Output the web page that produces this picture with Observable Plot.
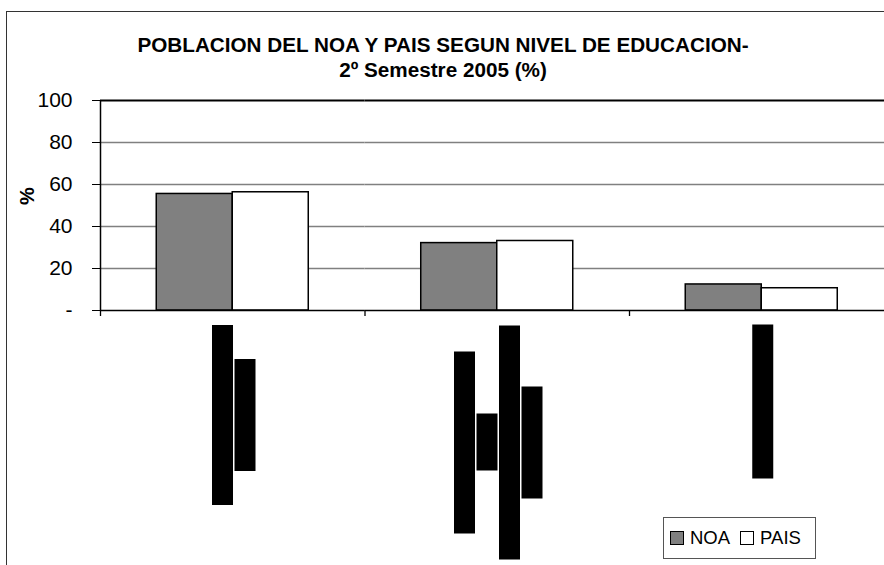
<!DOCTYPE html>
<html>
<head>
<meta charset="utf-8">
<script src="https://cdn.jsdelivr.net/npm/d3@7"></script>
<script src="https://cdn.jsdelivr.net/npm/@observablehq/plot@0.6"></script>
<style>
html, body { margin: 0; padding: 0; background: #fff; overflow: hidden; }
#wrap { position: relative; width: 884px; height: 565px; overflow: hidden; background: #fff;
        font-family: "Liberation Sans", Arial, sans-serif; color: #000; }
#border { position: absolute; left: 6px; top: 11px; width: 1200px; height: 1200px;
          border: 1.5px solid #333; box-sizing: border-box; }
#title { position: absolute; left: 0; width: 886px; top: 32px; text-align: center;
         font-weight: bold; font-size: 20.7px; line-height: 25.3px; white-space: nowrap; }
#ylabel { position: absolute; left: 27px; top: 196px; transform: translate(-50%, -50%) rotate(-90deg);
          font-weight: bold; font-size: 20px; line-height: 1; }
#chart { position: absolute; left: 0; top: 0; }
#legend { position: absolute; left: 663px; top: 517px; width: 153px; height: 42px; box-sizing: border-box;
          border: 1px solid #555; background: #fff; display: flex; align-items: center; padding-left: 6px; }
#legend .item { display: flex; align-items: center; margin-right: 10px; font-size: 18.5px; }
#legend .sw { width: 14px; height: 14px; box-sizing: border-box; border: 1.5px solid #000; margin-right: 6px; }
</style>
</head>
<body>
<svg width="0" height="0" style="position:absolute">
  <defs>
    <filter id="redact" x="0" y="0.08" width="1" height="0.84">
      <feFlood flood-color="#000" flood-opacity="1"/>
    </filter>
  </defs>
</svg>
<div id="wrap">
  <div id="border"></div>
  <div id="chart"></div>
  <div id="title"></div>
  <div id="ylabel"></div>
  <div id="legend"></div>
</div>
<script>
// ---- data ----
const titleLines = ["POBLACION DEL NOA Y PAIS SEGUN NIVEL DE EDUCACION-", "2º Semestre 2005 (%)"];
const yLabel = "%";
const categoryLines = [
  ["Hasta Secundario", "Incompleto"],
  ["Desde secundario", "hasta", "Terciario y Universitario", "Incompleto"],
  ["Univ. Completo"]
];
const categories = categoryLines.map(l => l.join(" "));
const series = ["NOA", "PAIS"];
const noaValues = [55.5, 32.1, 12.4];
const paisValues = [56.3, 33.1, 10.6];
const yTicks = [0, 20, 40, 60, 80, 100];
const seriesColors = ["#808080", "#ffffff"];

const data = categories.flatMap((c, i) => [
  {cat: c, series: series[0], value: noaValues[i]},
  {cat: c, series: series[1], value: paisValues[i]}
]);

// ---- layout ----
const W = 900, H = 565, mL = 100, mR = 6.5, mT = 100, mB = 255;
const facetW = (W - mL - mR) / categories.length;
const labelFont = 22.5, linePitch = 22.5, labelGap = 15, labelShift = 8.5;

const ctx = document.createElement("canvas").getContext("2d");
ctx.font = `${labelFont}px "Liberation Sans"`;
const labelMarks = categoryLines.flatMap((lines, i) => {
  const maxLen = Math.max(...lines.map(t => ctx.measureText(t).width));
  return lines.map((t, k) => Plot.text([{cat: categories[i], text: t}], {
    fx: "cat", text: "text", frameAnchor: "bottom", rotate: -90, textAnchor: "middle",
    dx: labelShift + (k - (lines.length - 1) / 2) * linePitch, dy: labelGap + maxLen / 2,
    fontSize: labelFont, fill: "#000"
  }));
});

const chart = Plot.plot({
  width: W, height: H, marginLeft: mL, marginRight: mR, marginTop: mT, marginBottom: mB,
  style: "max-width:none;background:transparent;overflow:visible;font-family:'Liberation Sans',Arial,sans-serif;color:#000",
  fx: {domain: categories, padding: 0, round: false, axis: null},
  x: {domain: series, paddingInner: 0, paddingOuter: 0.74, round: false, axis: null},
  y: {domain: [0, 100], axis: null},
  color: {domain: series, range: seriesColors},
  marks: [
    Plot.ruleY(yTicks.filter(t => t > 0 && t < 100), {stroke: "#808080", strokeWidth: 1.3}),
    Plot.ruleY([100], {stroke: "#000", strokeWidth: 2}),
    Plot.barY(data, {fx: "cat", x: "series", y: "value", fill: "series", stroke: "#000", strokeWidth: 1.5}),
    Plot.ruleY([0], {stroke: "#000", strokeWidth: 1.5}),
    Plot.ruleX([categories[0]], {fx: d => d, x: null, dx: -facetW / 2, y1: 0, y2: 100, stroke: "#000", strokeWidth: 1.5}),
    Plot.ruleX(categories, {fx: d => d, x: null, dx: -facetW / 2, y1: 0, y2: 0, insetBottom: -6, stroke: "#000", strokeWidth: 1.3}),
    Plot.axisY(yTicks, {tickFormat: d => d === 0 ? "-" : String(d), tickSize: 8, tickPadding: 20,
                        fontSize: 21, stroke: "#000", fill: "#000", label: null}),
    ...labelMarks
  ]
});
document.getElementById("chart").appendChild(chart);

// category labels appear as solid black (redacted) blocks, as in the reference
const labelSet = new Set(categoryLines.flat());
chart.querySelectorAll("text").forEach(t => {
  if (labelSet.has(t.textContent)) t.setAttribute("filter", "url(#redact)");
});

// ---- title, y label, legend ----
document.getElementById("title").innerHTML = titleLines.map(t => `<div>${t}</div>`).join("");
document.getElementById("ylabel").textContent = yLabel;
document.getElementById("legend").innerHTML = series.map((s, i) =>
  `<div class="item"><div class="sw" style="background:${seriesColors[i]}"></div><span>${s}</span></div>`).join("");
</script>
</body>
</html>
